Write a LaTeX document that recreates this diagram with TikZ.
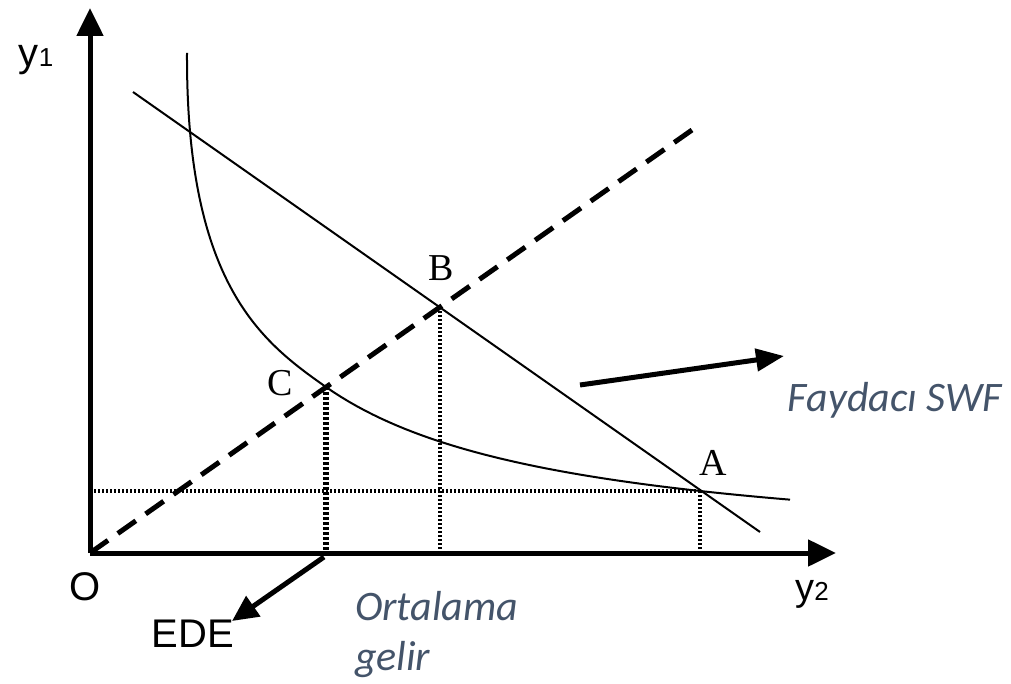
\documentclass[tikz,border=0pt]{standalone}
\usepackage{fontspec}
\setmainfont{Liberation Serif}
\newfontfamily\sansfont{Liberation Sans}
\newfontfamily\calfont{Carlito}
\usepackage{tikz}
\usetikzlibrary{arrows.meta}
\definecolor{slate}{HTML}{44546A}

\begin{document}
\begin{tikzpicture}[x=0.5pt,y=-0.5pt,>={Triangle[width=13pt,length=14pt]}]
\useasboundingbox (0,0) rectangle (1011,684);
% axes and guide lines
\coordinate (O) at (90,553);
\coordinate (ytip) at (90,8);
\coordinate (xtip) at (836,553);
\coordinate (D1) at (90,553);
\coordinate (D2) at (692,130);
\coordinate (L1) at (133,92);
\coordinate (L2) at (760,532);
\coordinate (B) at (intersection of D1--D2 and L1--L2);
\coordinate (C) at (326,387);
\coordinate (A) at (700,491);
\coordinate (top) at (187,53);
\draw[line width=2.5pt,->] (O) -- (ytip);
\draw[line width=2.5pt,->] (O) -- (xtip);
\draw[line width=2.5pt,dash pattern=on 11pt off 6pt] (D1) -- (D2);
\draw[line width=1pt] (L1) -- (L2);
\draw[line width=1pt] (top) .. controls (186,285) and (262,342) .. (C)
  -- plot[domain=326:790,samples=60,variable=\t] ({\t},{559.4-424.13/(\t/100-0.8)});
% dotted drops
\draw[line width=1.8pt,dash pattern=on 1pt off 1pt] (O |- A) -- (A);
\draw[line width=1.8pt,dash pattern=on 1pt off 1pt] (A) -- (A |- O);
\draw[line width=1.8pt,dash pattern=on 1pt off 1pt] (B) -- (B |- O);
\draw[line width=2.8pt,dash pattern=on 1.5pt off 1pt] (C) -- (C |- O);
% callout arrows
\coordinate (ede) at (232,621);
\coordinate (s1) at (580,385);
\coordinate (s2) at (784,356);
\draw[line width=2.5pt,-{Triangle[width=12pt,length=13pt]}] (C |- O) ++(-2,4) -- (ede);
\draw[line width=2.5pt,-{Triangle[width=11pt,length=14pt]}] (s1) -- (s2);
% labels
\node[font=\sansfont\fontsize{20}{20}\selectfont] (ylab) at (36,60) {y{\fontsize{13}{13}\selectfont 1}};
\node[font=\sansfont\fontsize{19}{19}\selectfont] (xlab) at (812,594) {y{\fontsize{13}{13}\selectfont 2}};
\node[font=\sansfont\fontsize{20}{20}\selectfont] (olab) at (85,587) {O};
\node[font=\sansfont\fontsize{20}{20}\selectfont] (edelab) at (193,634) {EDE};
\node[font=\fontsize{19}{19}\selectfont] (alab) at (713,463) {A};
\node[font=\fontsize{19}{19}\selectfont] (blab) at (441,268) {B};
\node[font=\fontsize{19}{19}\selectfont] (clab) at (280,383) {C};
\node[font=\calfont\itshape\fontsize{21}{25}\selectfont,text=slate] (swf) at (895,400) {Faydacı SWF};
\node[font=\calfont\itshape\fontsize{21}{25}\selectfont,text=slate,align=left,anchor=west] (ort) at (348,635) {Ortalama\\gelir};
\end{tikzpicture}
\end{document}
